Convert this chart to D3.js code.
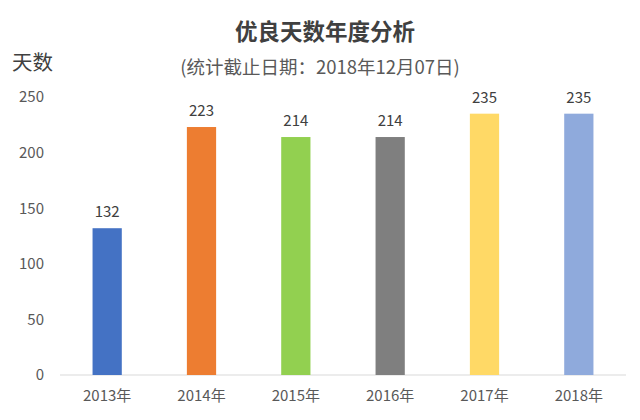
<!DOCTYPE html>
<html><head><meta charset="utf-8">
<script src="https://cdn.jsdelivr.net/npm/d3@7"></script>
<style>
html,body{margin:0;padding:0;background:#fff;}
text{font-family:"Noto Sans CJK SC","Noto Sans",sans-serif;}
</style></head>
<body>
<svg id="chart" width="640" height="420"></svg>
<script>
const categories = ["2013年","2014年","2015年","2016年","2017年","2018年"];
const values = [132, 223, 214, 214, 235, 235];
const colors = ["#4472c4","#ed7d31","#92d050","#7f7f7f","#ffd966","#8faadc"];
const yTicks = [0, 50, 100, 150, 200, 250];
const title = "优良天数年度分析";
const subtitle = "(统计截止日期：2018年12月07日)";
const yLabel = "天数";

const svg = d3.select("#chart");
const x = d3.scaleBand().domain(categories).range([60, 626]).paddingInner(0.69).paddingOuter(0.345);
const y = d3.scaleLinear().domain([0, 250]).range([375, 97]);

svg.append("text").attr("x", 325).attr("y", 40).attr("text-anchor", "middle")
  .attr("font-size", 22.5).attr("font-weight", "bold").attr("fill", "#404040").text(title);
svg.append("text").attr("x", 320).attr("y", 74).attr("text-anchor", "middle")
  .attr("font-size", 18.5).attr("fill", "#595959").text(subtitle);
svg.append("text").attr("x", 12).attr("y", 70).attr("font-size", 20.5).attr("fill", "#404040").text(yLabel);

// y axis labels
const yAxis = d3.axisLeft(y).tickValues(yTicks).tickSize(0).tickPadding(0);
const gy = svg.append("g").attr("transform", "translate(44,0)").call(yAxis);
gy.select(".domain").remove();
gy.selectAll("text").attr("font-size", 15).attr("fill", "#595959")
  .style("font-family", '"Noto Sans CJK SC","Noto Sans",sans-serif');

// x axis
const xAxis = d3.axisBottom(x).tickSize(0).tickPadding(15);
const gx = svg.append("g").attr("transform", "translate(0,375)").call(xAxis);
gx.select(".domain").attr("stroke", "#d9d9d9").attr("stroke-width", 1.2)
  .attr("d", "M60,0H626");
gx.selectAll("text").attr("font-size", 15).attr("fill", "#595959")
  .style("font-family", '"Noto Sans CJK SC","Noto Sans",sans-serif');

// bars
svg.append("g").selectAll("rect").data(values).join("rect")
  .attr("x", (d, i) => x(categories[i]))
  .attr("y", d => y(d))
  .attr("width", x.bandwidth())
  .attr("height", d => y(0) - y(d))
  .attr("fill", (d, i) => colors[i]);

// value labels
svg.append("g").selectAll("text").data(values).join("text")
  .attr("x", (d, i) => x(categories[i]) + x.bandwidth() / 2)
  .attr("y", d => y(d) - 11)
  .attr("text-anchor", "middle")
  .attr("font-size", 15).attr("fill", "#404040")
  .text(d => d);
</script>
</body></html>
